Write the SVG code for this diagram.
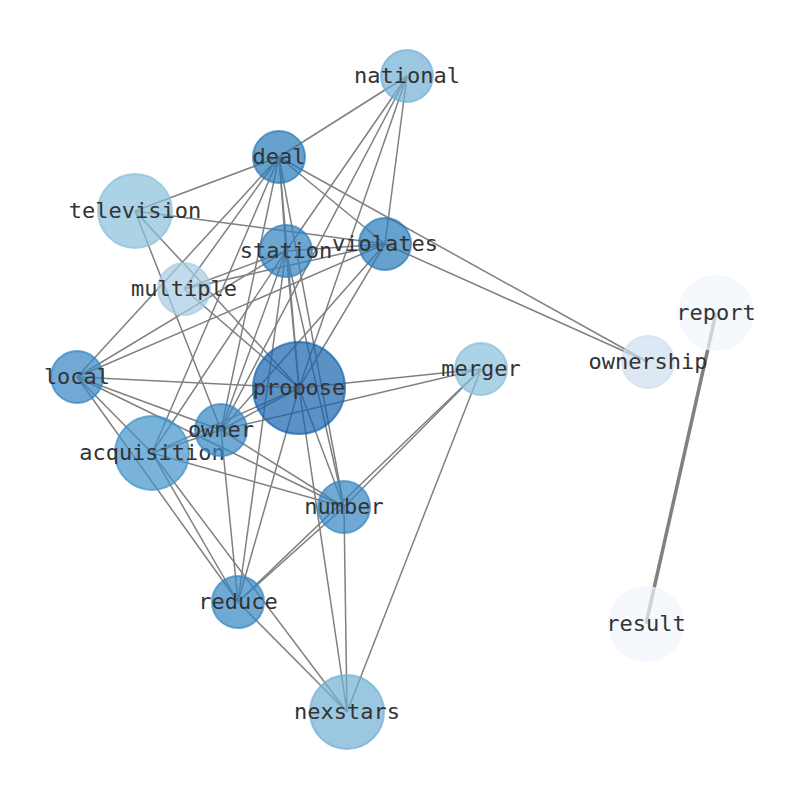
<svg xmlns="http://www.w3.org/2000/svg" width="794" height="790" viewBox="0 0 794 790">
<style>
.e{stroke:#808080;stroke-width:1.5;fill:none}
.e2{stroke:#808080;stroke-width:3.5;fill:none}
.n{stroke-width:2;fill-opacity:0.7;stroke-opacity:0.7}
.t{font-family:"DejaVu Sans Mono","Liberation Mono",monospace;font-size:22px;fill:#333;text-anchor:middle}
</style>
<rect width="794" height="790" fill="#fff"/>
<g id="edges">
<line class="e" x1="347" y1="712" x2="299" y2="388"/>
<line class="e" x1="347" y1="712" x2="152" y2="453"/>
<line class="e" x1="347" y1="712" x2="238" y2="602"/>
<line class="e" x1="347" y1="712" x2="344" y2="507"/>
<line class="e" x1="347" y1="712" x2="481" y2="369"/>
<line class="e" x1="299" y1="388" x2="152" y2="453"/>
<line class="e" x1="299" y1="388" x2="238" y2="602"/>
<line class="e" x1="299" y1="388" x2="344" y2="507"/>
<line class="e" x1="299" y1="388" x2="77" y2="377"/>
<line class="e" x1="299" y1="388" x2="286" y2="251"/>
<line class="e" x1="299" y1="388" x2="221" y2="430"/>
<line class="e" x1="299" y1="388" x2="407" y2="76"/>
<line class="e" x1="299" y1="388" x2="279" y2="157"/>
<line class="e" x1="299" y1="388" x2="385" y2="244"/>
<line class="e" x1="299" y1="388" x2="135" y2="211"/>
<line class="e" x1="299" y1="388" x2="184" y2="289"/>
<line class="e" x1="299" y1="388" x2="481" y2="369"/>
<line class="e" x1="152" y1="453" x2="238" y2="602"/>
<line class="e" x1="152" y1="453" x2="344" y2="507"/>
<line class="e" x1="152" y1="453" x2="77" y2="377"/>
<line class="e" x1="152" y1="453" x2="286" y2="251"/>
<line class="e" x1="152" y1="453" x2="221" y2="430"/>
<line class="e" x1="152" y1="453" x2="279" y2="157"/>
<line class="e" x1="238" y1="602" x2="344" y2="507"/>
<line class="e" x1="238" y1="602" x2="77" y2="377"/>
<line class="e" x1="238" y1="602" x2="286" y2="251"/>
<line class="e" x1="238" y1="602" x2="221" y2="430"/>
<line class="e" x1="238" y1="602" x2="481" y2="369"/>
<line class="e" x1="344" y1="507" x2="77" y2="377"/>
<line class="e" x1="344" y1="507" x2="286" y2="251"/>
<line class="e" x1="344" y1="507" x2="279" y2="157"/>
<line class="e" x1="344" y1="507" x2="221" y2="430"/>
<line class="e" x1="344" y1="507" x2="481" y2="369"/>
<line class="e" x1="77" y1="377" x2="286" y2="251"/>
<line class="e" x1="77" y1="377" x2="221" y2="430"/>
<line class="e" x1="77" y1="377" x2="279" y2="157"/>
<line class="e" x1="77" y1="377" x2="385" y2="244"/>
<line class="e" x1="286" y1="251" x2="221" y2="430"/>
<line class="e" x1="286" y1="251" x2="407" y2="76"/>
<line class="e" x1="286" y1="251" x2="279" y2="157"/>
<line class="e" x1="286" y1="251" x2="385" y2="244"/>
<line class="e" x1="286" y1="251" x2="184" y2="289"/>
<line class="e" x1="221" y1="430" x2="407" y2="76"/>
<line class="e" x1="221" y1="430" x2="279" y2="157"/>
<line class="e" x1="221" y1="430" x2="385" y2="244"/>
<line class="e" x1="221" y1="430" x2="135" y2="211"/>
<line class="e" x1="221" y1="430" x2="481" y2="369"/>
<line class="e" x1="407" y1="76" x2="279" y2="157"/>
<line class="e" x1="407" y1="76" x2="385" y2="244"/>
<line class="e" x1="279" y1="157" x2="385" y2="244"/>
<line class="e" x1="279" y1="157" x2="135" y2="211"/>
<line class="e" x1="279" y1="157" x2="184" y2="289"/>
<line class="e" x1="279" y1="157" x2="648" y2="362"/>
<line class="e" x1="385" y1="244" x2="135" y2="211"/>
<line class="e" x1="385" y1="244" x2="184" y2="289"/>
<line class="e" x1="385" y1="244" x2="648" y2="362"/>
<line class="e2" x1="716" y1="313" x2="646" y2="624"/>
</g>
<g id="node-national"><circle class="n" cx="407" cy="76" r="26" fill="#71afd4" stroke="#71afd4"/><text class="t" x="407" y="83">national</text></g>
<g id="node-deal"><circle class="n" cx="279" cy="157" r="26" fill="#277ab9" stroke="#277ab9"/><text class="t" x="279" y="164">deal</text></g>
<g id="node-television"><circle class="n" cx="135" cy="211" r="37" fill="#89bfdb" stroke="#89bfdb"/><text class="t" x="135" y="218">television</text></g>
<g id="node-station"><circle class="n" cx="286" cy="251" r="26" fill="#2d80bd" stroke="#2d80bd"/><text class="t" x="286" y="258">station</text></g>
<g id="node-violates"><circle class="n" cx="385" cy="244" r="26" fill="#277ab9" stroke="#277ab9"/><text class="t" x="385" y="251">violates</text></g>
<g id="node-multiple"><circle class="n" cx="184" cy="289" r="26" fill="#a8cce4" stroke="#a8cce4"/><text class="t" x="184" y="296">multiple</text></g>
<g id="node-local"><circle class="n" cx="77" cy="377" r="26" fill="#3386c2" stroke="#3386c2"/><text class="t" x="77" y="384">local</text></g>
<g id="node-merger"><circle class="n" cx="481" cy="369" r="26" fill="#89bfdb" stroke="#89bfdb"/><text class="t" x="481" y="376">merger</text></g>
<g id="node-propose"><circle class="n" cx="299" cy="388" r="46" fill="#1663ac" stroke="#1663ac"/><text class="t" x="299" y="395">propose</text></g>
<g id="node-acquisition"><circle class="n" cx="152" cy="453" r="37" fill="#4293c9" stroke="#4293c9"/><text class="t" x="152" y="460">acquisition</text></g>
<g id="node-owner"><circle class="n" cx="221" cy="430" r="26" fill="#3386c2" stroke="#3386c2"/><text class="t" x="221" y="437">owner</text></g>
<g id="node-number"><circle class="n" cx="344" cy="507" r="26" fill="#3386c2" stroke="#3386c2"/><text class="t" x="344" y="514">number</text></g>
<g id="node-reduce"><circle class="n" cx="238" cy="602" r="26" fill="#3386c2" stroke="#3386c2"/><text class="t" x="238" y="609">reduce</text></g>
<g id="node-nexstars"><circle class="n" cx="347" cy="712" r="37" fill="#71afd4" stroke="#71afd4"/><text class="t" x="347" y="719">nexstars</text></g>
<g id="node-ownership"><circle class="n" cx="648" cy="362" r="26" fill="#cedef1" stroke="#cedef1"/><text class="t" x="648" y="369">ownership</text></g>
<g id="node-report"><circle class="n" cx="716" cy="313" r="37" fill="#f1f7fe" stroke="#f1f7fe"/><text class="t" x="716" y="320">report</text></g>
<g id="node-result"><circle class="n" cx="646" cy="624" r="37" fill="#f1f7fe" stroke="#f1f7fe"/><text class="t" x="646" y="631">result</text></g>
</svg>
